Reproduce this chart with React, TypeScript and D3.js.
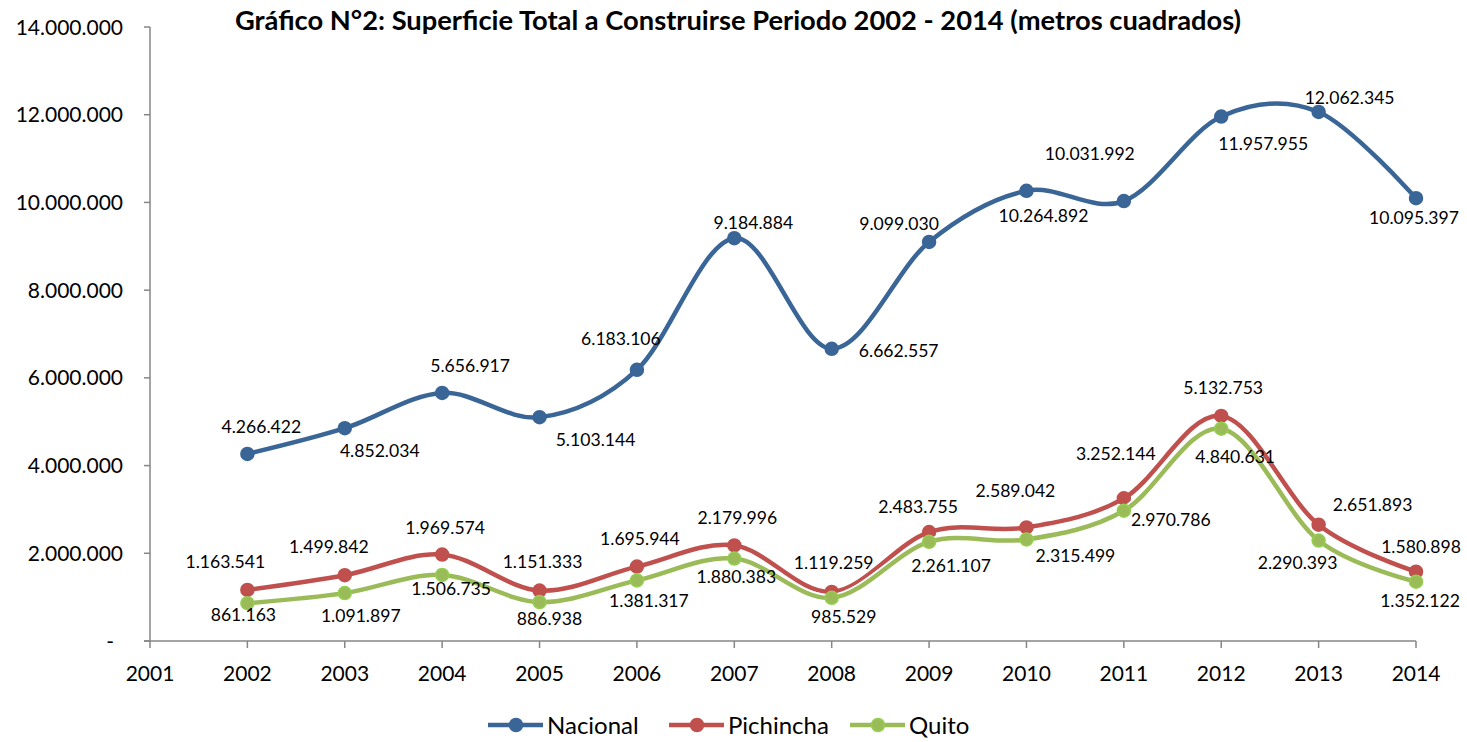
import React from "react";
import * as d3 from "d3";

const years = [2002, 2003, 2004, 2005, 2006, 2007, 2008, 2009, 2010, 2011, 2012, 2013, 2014];
const xTicks = [2001, 2002, 2003, 2004, 2005, 2006, 2007, 2008, 2009, 2010, 2011, 2012, 2013, 2014];
const yTicks = [0, 2000000, 4000000, 6000000, 8000000, 10000000, 12000000, 14000000];

const nacional = [4266422, 4852034, 5656917, 5103144, 6183106, 9184884, 6662557, 9099030, 10264892, 10031992, 11957955, 12062345, 10095397];
const pichincha = [1163541, 1499842, 1969574, 1151333, 1695944, 2179996, 1119259, 2483755, 2589042, 3252144, 5132753, 2651893, 1580898];
const quito = [861163, 1091897, 1506735, 886938, 1381317, 1880383, 985529, 2261107, 2315499, 2970786, 4840631, 2290393, 1352122];

// data label nudges (label centre relative to the marker), as placed in the original
const nacionalLbl = [[14, -27], [35, 22], [28, -27], [56, 23], [-16, -31], [19, -15], [67, 2], [-30, -18], [17, 25], [-34, -47], [42, 27], [31, -14], [-2, 19]];
const pichinchaLbl = [[-22, -28], [-16, -29], [3, -27], [3, -29], [3, -28], [3, -28], [2, -29], [-11, -25], [-11, -37], [-8, -45], [2, -28], [54, -20], [5, -25]];
const quitoLbl = [[-4, 11], [16, 23], [9, 14], [10, 17], [12, 20], [2, 18], [12, 19], [22, 24], [49, 16], [47, 9], [14, 28], [-21, 22], [4, 19]];

const series = [
  { name: "Nacional", values: nacional, lbl: nacionalLbl, color: "#3a6597", border: "#3a6597" },
  { name: "Pichincha", values: pichincha, lbl: pichinchaLbl, color: "#c0504d", border: "#c0504d" },
  { name: "Quito", values: quito, lbl: quitoLbl, color: "#9bbb59", border: "#92d050" },
];

const fmt = (v: number) => (v === 0 ? "-" : d3.format(",")(v).replace(/,/g, "."));

export default function App() {
  const width = 1467;
  const height = 742;
  const font = "Lato, 'Open Sans', sans-serif";

  const x = d3.scaleLinear().domain([2001, 2014]).range([150, 1416]);
  const y = d3.scaleLinear().domain([0, 14000000]).range([641, 27]);

  const line = d3
    .line<number>()
    .x((d, i) => x(years[i]))
    .y((d) => y(d))
    .curve(d3.curveCatmullRom.alpha(0));

  const legendX = [488, 669, 850];

  return (
    <svg width={width} height={height} style={{ position: "absolute", left: 0, top: 0, background: "#fff" }}>
      <text x={738} y={30} textAnchor="middle" fontFamily={font} fontWeight="bold" fontSize={27.3} fill="#000">
        Gráfico N°2: Superficie Total a Construirse Periodo 2002 - 2014 (metros cuadrados)
      </text>

      {/* axes */}
      <line x1={x(2001)} x2={x(2001)} y1={y(14000000)} y2={y(0)} stroke="#868686" strokeWidth={1.5} />
      <line x1={x(2001) - 6} x2={x(2014)} y1={y(0)} y2={y(0)} stroke="#868686" strokeWidth={1.5} />
      {yTicks.map((t) => (
        <g key={t}>
          <line x1={x(2001) - 6} x2={x(2001)} y1={y(t)} y2={y(t)} stroke="#868686" strokeWidth={1.5} />
          <text x={t === 0 ? 114 : 123} y={y(t) + 7.5} textAnchor="end" fontFamily={font} fontSize={21} fill="#000">
            {fmt(t)}
          </text>
        </g>
      ))}
      {xTicks.map((t) => (
        <g key={t}>
          <line x1={x(t)} x2={x(t)} y1={y(0)} y2={y(0) + 7} stroke="#868686" strokeWidth={1.5} />
          <text x={x(t)} y={681} textAnchor="middle" fontFamily={font} fontSize={21} fill="#000">
            {t}
          </text>
        </g>
      ))}

      {/* lines */}
      {series.map((s) => (
        <g key={s.name}>
          <path d={line(s.values) || ""} fill="none" stroke="#fff" strokeWidth={8} />
          <path d={line(s.values) || ""} fill="none" stroke={s.color} strokeWidth={4.5} />
          {s.values.map((v, i) => (
            <circle key={i} cx={x(years[i])} cy={y(v)} r={6.5} fill={s.color} stroke={s.border} strokeWidth={1.5} />
          ))}
        </g>
      ))}

      {/* data labels */}
      {series.map((s) =>
        s.values.map((v, i) => (
          <text
            key={s.name + i}
            x={x(years[i]) + s.lbl[i][0]}
            y={y(v) + s.lbl[i][1] + 6.3}
            textAnchor="middle"
            fontFamily={font}
            fontSize={17.6}
            fill="#000"
          >
            {fmt(v)}
          </text>
        ))
      )}

      {/* legend */}
      {series.map((s, i) => (
        <g key={s.name}>
          <line x1={legendX[i]} x2={legendX[i] + 55} y1={725} y2={725} stroke={s.color} strokeWidth={4.5} />
          <circle cx={legendX[i] + 28} cy={725} r={6.5} fill={s.color} stroke={s.border} strokeWidth={1.5} />
          <text x={legendX[i] + 59} y={734} fontFamily={font} fontSize={24} fill="#000">
            {s.name}
          </text>
        </g>
      ))}
    </svg>
  );
}
